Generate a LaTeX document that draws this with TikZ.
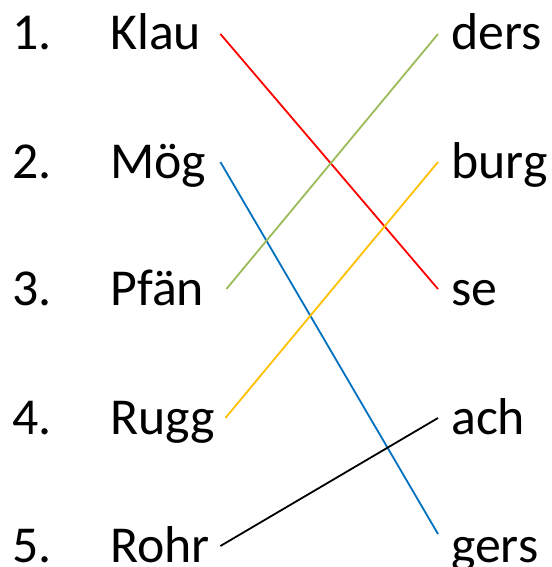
\documentclass[tikz,border=0pt]{standalone}
\usepackage{fontspec}
\setmainfont{Carlito}
\definecolor{rot}{HTML}{FF0000}
\definecolor{blau}{HTML}{0070C0}
\definecolor{gruen}{HTML}{9BBB59}
\definecolor{gelb}{HTML}{FFC000}
\tikzstyle{nummer}=[inner sep=0pt, anchor=base west, font=\fontsize{52}{62}\selectfont]
\tikzstyle{anfang}=[inner sep=0pt, anchor=base west, text width=110bp, align=left, text height=36bp, text depth=4bp, font=\fontsize{52}{62}\selectfont]
\tikzstyle{ende}=[inner xsep=13bp, inner ysep=0pt, anchor=base west, text height=36bp, text depth=4bp, font=\fontsize{52}{62}\selectfont]
\tikzstyle{linie}=[line width=1.8bp]

\begin{document}
\begin{tikzpicture}[x=1bp, y=-1bp]
        \useasboundingbox (0,0) rectangle (552,567);
        % Nummern
        \node[nummer] (n1) at (12, 50) {1.};
        \node[nummer] (n2) at (12, 178) {2.};
        \node[nummer] (n3) at (12, 305) {3.};
        \node[nummer] (n4) at (12, 434) {4.};
        \node[nummer] (n5) at (12, 562) {5.};
        % Wortanfänge
        \node[anfang] (klau) at (110, 50) {Klau};
        \node[anfang] (moeg) at (110, 178) {Mög};
        \node[anfang] (pfaen) at (110, 305) {Pfän};
        \node[anfang] (rugg) at (110, 434) {Rugg};
        \node[anfang] (rohr) at (110, 562) {Rohr};
        % Wortenden
        \node[ende] (ders) at (438, 50) {ders};
        \node[ende] (burg) at (438, 178) {burg};
        \node[ende] (se) at (438, 305) {se};
        \node[ende] (ach) at (438, 434) {ach};
        \node[ende] (gers) at (438, 562) {gers};
        % Verbindungen
        \draw[linie, rot] (klau.east) -- (se.west);
        \draw[linie, blau] (moeg.east) -- ([yshift=12bp]gers.west);
        \draw[linie, gruen] ([xshift=6bp]pfaen.east) -- (ders.west);
        \draw[linie, gelb] ([xshift=5bp]rugg.east) -- (burg.west);
        \draw[linie] (rohr.east) -- (ach.west);
\end{tikzpicture}
\end{document}
